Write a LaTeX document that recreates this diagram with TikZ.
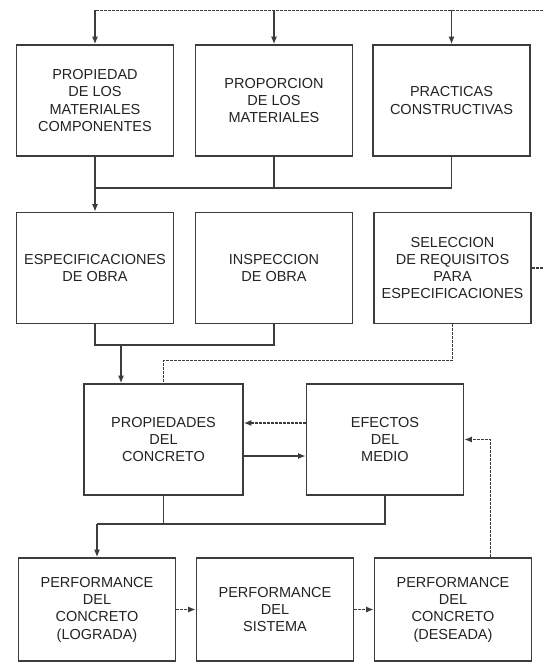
\documentclass[tikz,border=0pt]{standalone}
\usepackage{fontspec}
\setmainfont{Liberation Sans}
\usetikzlibrary{arrows.meta}
\definecolor{ink}{RGB}{60,60,60}
\definecolor{txt}{RGB}{35,35,35}
\begin{document}
\begin{tikzpicture}[x=1pt,y=-1pt,
 box/.style={draw=ink, line width=1.6pt, rectangle, inner sep=0pt, align=center,
   text=txt, font=\fontsize{14.5}{17.3}\selectfont,
   minimum width=157pt, minimum height=111pt},
 link/.style={draw=ink, line width=1.3pt},
 dlink/.style={draw=ink, line width=1.3pt, dash pattern=on 3pt off 1pt},
 tip/.style={-{Latex[length=7.5pt,width=6pt]}}]
\useasboundingbox[fill=white] (0,0) rectangle (543,662);

% boxes
\node[box] (b1) at (95,100.5) {PROPIEDAD\\DE LOS\\MATERIALES\\COMPONENTES};
\node[box] (b2) at (274,100.5) {PROPORCION\\DE LOS\\MATERIALES};
\node[box] (b3) at (451.5,100.5) {PRACTICAS\\CONSTRUCTIVAS};
\node[box] (b4) at (95,268) {ESPECIFICACIONES\\DE OBRA};
\node[box] (b5) at (274,268) {INSPECCION\\DE OBRA};
\node[box] (b6) at (452.5,268) {SELECCION\\DE REQUISITOS\\PARA\\ESPECIFICACIONES};
\node[box, minimum width=159pt] (b7) at (163.5,439.5) {PROPIEDADES\\DEL\\CONCRETO};
\node[box] (b8) at (385,439.5) {EFECTOS\\DEL\\MEDIO};
\node[box, minimum height=103pt] (b9) at (97,609.5) {PERFORMANCE\\DEL\\CONCRETO\\(LOGRADA)};
\node[box, minimum height=103pt] (b10) at (275,609.5) {PERFORMANCE\\DEL\\SISTEMA};
\node[box, minimum height=103pt] (b11) at (453,609.5) {PERFORMANCE\\DEL\\CONCRETO\\(DESEADA)};

% top feedback line
\coordinate (top) at (543,10.4);
\draw[dlink] (top) -- (top -| b1.north);
\draw[link,tip] (top -| b1.north) -- (b1.north);
\draw[link,tip] (top -| b2.north) -- (b2.north);
\draw[link,tip] (top -| b3.north) -- (b3.north);

% row 1 to row 2
\coordinate (j1) at (95,188);
\draw[link] (b3.south) |- (j1);
\draw[link] (b2.south) -- (b2.south |- j1);
\draw[link,tip] (b1.south) -- (b4.north);

% stub from b6 to the right
\coordinate (r6) at (543,267);
\draw[dlink] (b6.east) -- (b6.east -| r6);

% row 2 to row 3
\coordinate (j2) at (121,345);
\draw[link] (b4.south) |- (j2) -| (b5.south);
\draw[link,tip] (j2) -- (j2 |- b7.north);
\coordinate (j3) at (163.5,360.4);
\draw[dlink] (b6.south) |- (j3) -- (b7.north);

% between b7 and b8
\coordinate (ya) at (0,423);
\coordinate (yb) at (0,456);
\draw[dlink,tip] (b8.west |- ya) -- (b7.east |- ya);
\draw[link,tip] (b7.east |- yb) -- (b8.west |- yb);

% row 3 to row 4
\coordinate (j4) at (0,524);
\draw[link] (b8.south) |- (b9.north |- j4);
\draw[link] (b7.south) -- (b7.south |- j4);
\draw[link,tip] (b9.north |- j4) -- (b9.north);

% feedback from b11 to b8
\coordinate (k) at (490.6,439.5);
\draw[dlink,tip] (b11.north -| k) |- (b8.east);

% row 4 arrows
\draw[dlink,tip] (b9.east) -- (b10.west);
\draw[dlink,tip] (b10.east) -- (b11.west);
\end{tikzpicture}
\end{document}
